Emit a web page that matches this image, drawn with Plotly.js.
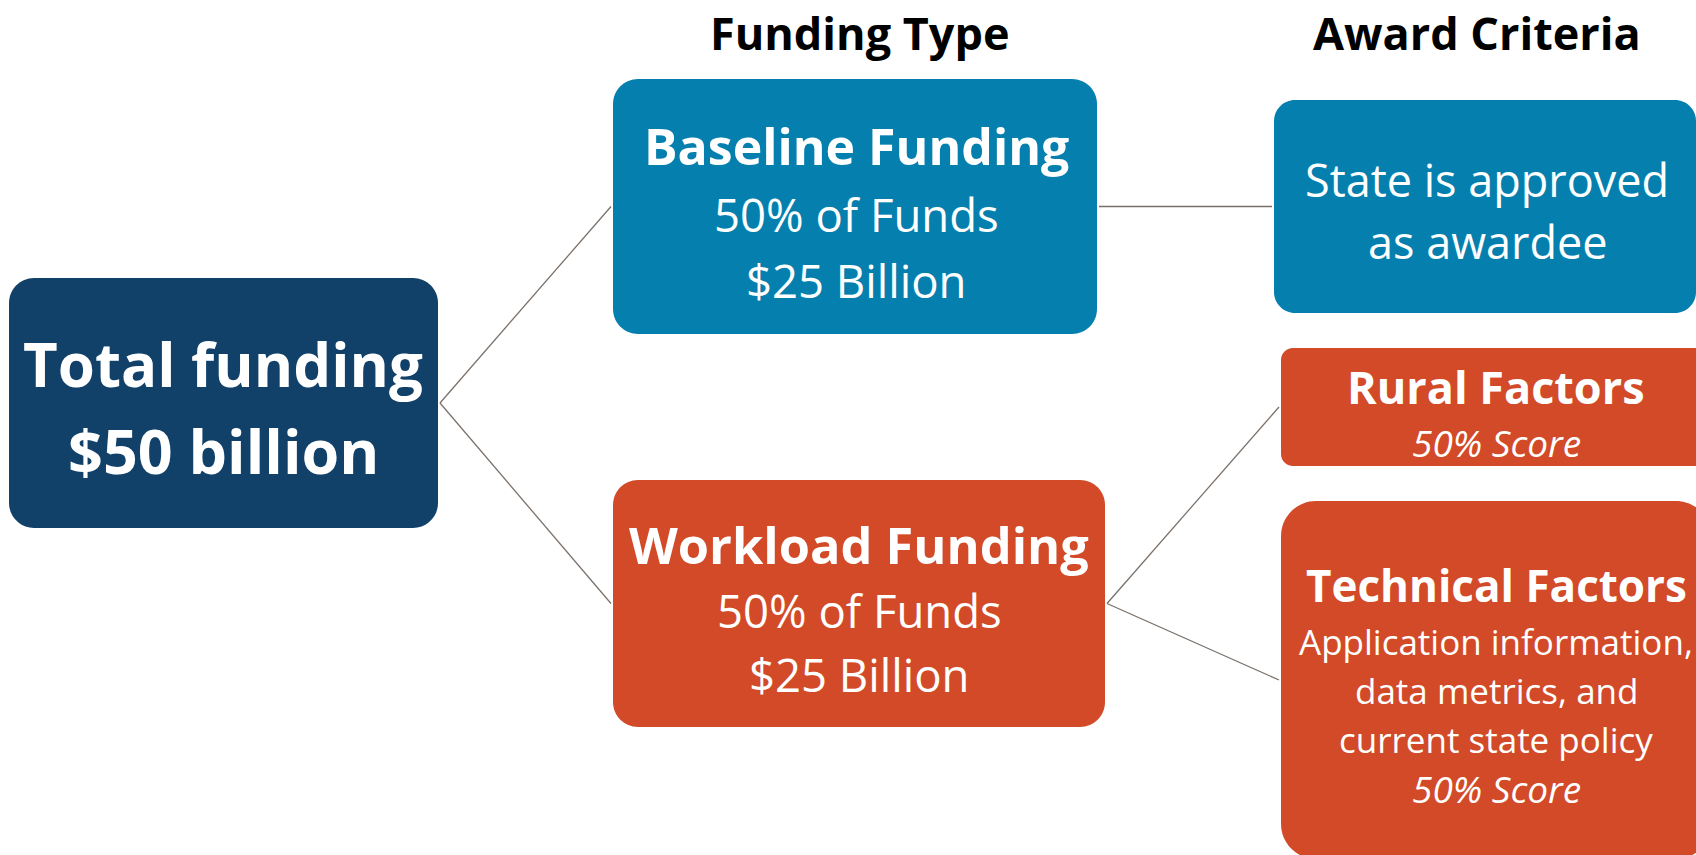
<!DOCTYPE html>
<html>
<head>
<meta charset="utf-8">
<script src="https://cdn.plot.ly/plotly-3.0.1.min.js"></script>
<style>
  html, body { margin: 0; padding: 0; background: #fff; }
  #chart { width: 1696px; height: 855px; }
</style>
</head>
<body>
<div id="chart"></div>
<script>
//data
var columnHeaders = ["Funding Type", "Award Criteria"];
var totalText = ["Total funding", "$50 billion"];
var baselineText = ["Baseline Funding", "50% of Funds", "$25 Billion"];
var workloadText = ["Workload Funding", "50% of Funds", "$25 Billion"];
var stateText = ["State is approved", "as awardee"];
var ruralText = ["Rural Factors", "50% Score"];
var technicalText = ["Technical Factors", "Application information,", "data metrics, and", "current state policy", "50% Score"];
// which box connects to which (index into nodes)
var links = [[0, 1], [0, 2], [1, 3], [2, 4], [2, 5]];

//colors
var navy = "#114068";
var blue = "#0580AE";
var orange = "#D24A28";
var font = "'Open Sans', 'Noto Sans', sans-serif";

//layout of the boxes: box edges, corner, text centre and per-line y / size / style
var nodes = [
    {text: totalText, x0: 9, x1: 438, y0: 278, y1: 528, r: 25, fill: navy, cx: 223,
     ys: [364, 450], sizes: [60, 61], styles: ["b", "b"]},
    {text: baselineText, x0: 613, x1: 1097, y0: 79, y1: 334, r: 25, fill: blue, cx: 856,
     ys: [146, 214, 280], sizes: [50, 45.5, 45.5], styles: ["b", "n", "n"]},
    {text: workloadText, x0: 613, x1: 1105, y0: 480, y1: 727, r: 25, fill: orange, cx: 859,
     ys: [544, 610, 674], sizes: [50.5, 45.5, 45.5], styles: ["b", "n", "n"]},
    {text: stateText, x0: 1274, x1: 1696, y0: 100, y1: 313, r: 21, fill: blue, cx: 1487,
     ys: [179, 241], sizes: [45, 45], styles: ["n", "n"]},
    {text: ruralText, x0: 1281, x1: 1711, y0: 348, y1: 466, r: 12, fill: orange, cx: 1496,
     ys: [386, 442], sizes: [45, 37], styles: ["b", "i"]},
    {text: technicalText, x0: 1281, x1: 1711, y0: 501, y1: 859, r: 35, fill: orange, cx: 1496,
     ys: [585, 641, 690, 739, 788], sizes: [44, 35, 35, 35, 37], styles: ["b", "n", "n", "n", "i"]}
];
var headerX = [859, 1477];

function roundRect(x0, y0, x1, y1, r) {
    var k = r * 0.45;
    return "M" + (x0 + r) + "," + y0 +
        " L" + (x1 - r) + "," + y0 +
        " C" + (x1 - k) + "," + y0 + " " + x1 + "," + (y0 + k) + " " + x1 + "," + (y0 + r) +
        " L" + x1 + "," + (y1 - r) +
        " C" + x1 + "," + (y1 - k) + " " + (x1 - k) + "," + y1 + " " + (x1 - r) + "," + y1 +
        " L" + (x0 + r) + "," + y1 +
        " C" + (x0 + k) + "," + y1 + " " + x0 + "," + (y1 - k) + " " + x0 + "," + (y1 - r) +
        " L" + x0 + "," + (y0 + r) +
        " C" + x0 + "," + (y0 + k) + " " + (x0 + k) + "," + y0 + " " + (x0 + r) + "," + y0 + " Z";
}

var shapes = [];
var annotations = [];

//connectors
links.forEach(function (l) {
    var a = nodes[l[0]], b = nodes[l[1]];
    shapes.push({
        type: "line", xref: "x", yref: "y", layer: "below",
        x0: a.x1 + 2, y0: (a.y0 + a.y1) / 2,
        x1: b.x0 - 2, y1: (b.y0 + b.y1) / 2,
        line: {color: "#7A716A", width: 1.3}
    });
});

//boxes and their text
nodes.forEach(function (n) {
    shapes.push({
        type: "path", xref: "x", yref: "y", layer: "below",
        path: roundRect(n.x0, n.y0, n.x1, n.y1, n.r),
        fillcolor: n.fill, line: {width: 0}
    });
    n.text.forEach(function (t, i) {
        annotations.push({
            x: n.cx, y: n.ys[i], xref: "x", yref: "y",
            text: t, showarrow: false, xanchor: "center", yanchor: "middle",
            font: {family: font, size: n.sizes[i], color: "#FFFFFF",
                   weight: n.styles[i] === "b" ? 700 : 400,
                   style: n.styles[i] === "i" ? "italic" : "normal"}
        });
    });
});

//column headers
columnHeaders.forEach(function (h, i) {
    annotations.push({
        x: headerX[i], y: 32, xref: "x", yref: "y",
        text: h, showarrow: false, xanchor: "center", yanchor: "middle",
        font: {family: font, size: 45, color: "#000000", weight: 700}
    });
});

var layout = {
    width: 1696, height: 855,
    margin: {l: 0, r: 0, t: 0, b: 0},
    paper_bgcolor: "#FFFFFF", plot_bgcolor: "#FFFFFF",
    xaxis: {range: [0, 1696], visible: false, fixedrange: true},
    yaxis: {range: [855, 0], visible: false, fixedrange: true},
    showlegend: false,
    shapes: shapes,
    annotations: annotations
};

Plotly.newPlot("chart", [], layout, {displayModeBar: false, staticPlot: true});
</script>
</body>
</html>
